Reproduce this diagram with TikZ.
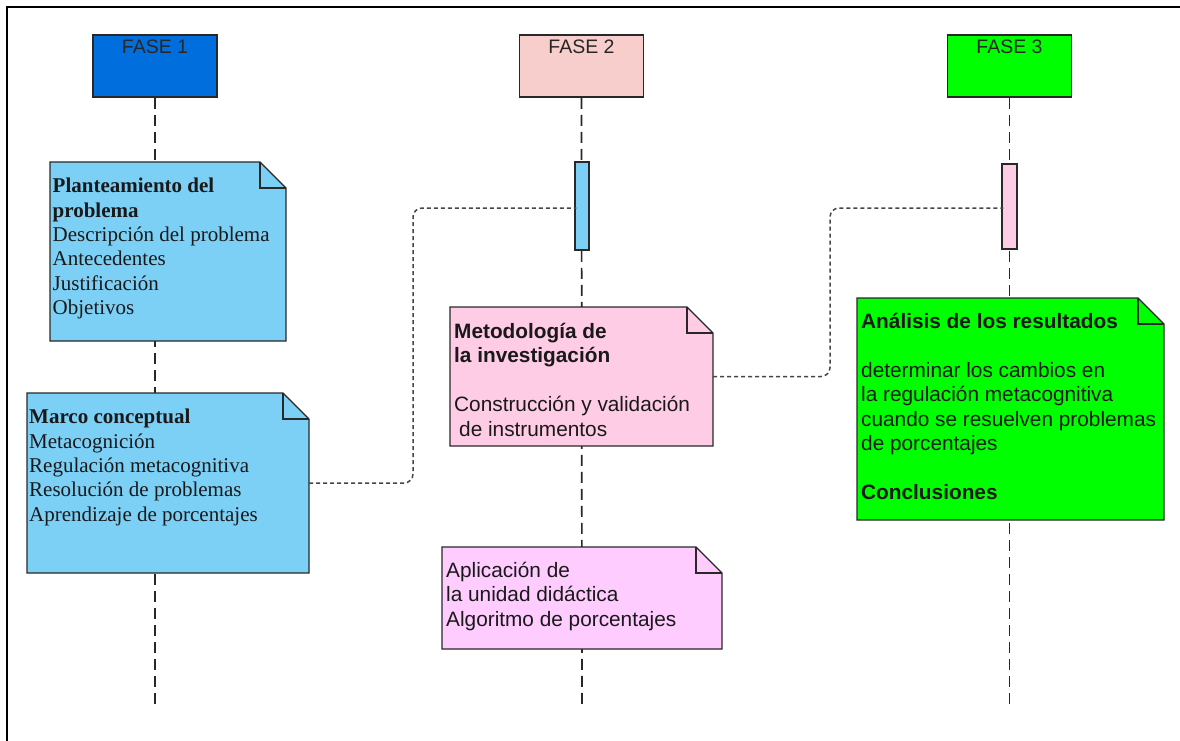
\documentclass[tikz,border=0pt]{standalone}
\usepackage{fontspec}
\setmainfont{Liberation Serif}
\newfontfamily\arialf{Liberation Sans}
\usetikzlibrary{calc,fit}

\definecolor{faseone}{RGB}{0,111,221}
\definecolor{fasetwo}{RGB}{248,206,204}
\definecolor{fasethree}{RGB}{0,255,0}
\definecolor{skyblue}{RGB}{124,207,245}
\definecolor{rosepink}{RGB}{255,204,230}
\definecolor{lilac}{RGB}{255,204,255}
\definecolor{edgegray}{RGB}{40,40,40}
\definecolor{dotgray}{RGB}{70,70,70}

% invisible strut fixing the height of a note's first line
\newcommand\lnstrut{\rule{0pt}{17pt}}

% a note: named area, folded top-right corner
\newcommand\notebox[6]{%
  \coordinate (#1-nw) at (#2,#3);
  \coordinate (#1-se) at (#4,#5);
  \node[notearea, fit=(#1-nw)(#1-se)] (#1) {};
  \filldraw[noteedge, fill=#6] (#1.north west) -- ([xshift=-26pt]#1.north east)
    -- ([yshift=-26pt]#1.north east) -- (#1.south east) -- (#1.south west) -- cycle;
  \draw[noteedge] ([xshift=-26pt]#1.north east) |- ([yshift=-26pt]#1.north east);
}

\tikzset{
  head/.style={draw=edgegray, line width=1.5pt, minimum width=124pt, minimum height=62pt, inner sep=0pt},
  headtext/.style={font=\arialf\fontsize{19.5}{22}\selectfont, text=black!85, anchor=base, inner sep=0pt},
  lifeline/.style={draw=edgegray, line width=1.7pt, dash pattern=on 11pt off 6pt},
  bar/.style={draw=edgegray, line width=1.4pt, minimum width=14pt, inner sep=0pt},
  notearea/.style={inner sep=0pt, outer sep=0pt, draw=none},
  noteedge/.style={draw=edgegray, line width=1.3pt, line join=miter},
  serifnote/.style={font=\fontsize{21}{24.4}\selectfont, align=left, anchor=north west, inner sep=0pt, text=black!90},
  sansnote/.style={font=\arialf\fontsize{20.8}{24.5}\selectfont, align=left, anchor=north west, inner sep=0pt, text=black!90},
  msg/.style={draw=dotgray, line width=1.5pt, dash pattern=on 4pt off 3pt, rounded corners=9pt},
}

\begin{document}
\begin{tikzpicture}[x=1pt,y=-1pt]
\useasboundingbox (0,0) rectangle (1180,740);
\fill[white] (0,0) rectangle (1180,740);

% outer frame
\draw[line width=2pt, black] (7,745) -- (7,7) -- (1185,7);

% phase heads
\node[head, fill=faseone]   (h1) at (155,66) {};
\node[head, fill=fasetwo]   (h2) at (581.5,66) {};
\node[head, fill=fasethree] (h3) at (1009.5,66) {};
\node[headtext] (l1) at ($(h1.north)+(0,19.5)$) {FASE 1};
\node[headtext] (l2) at ($(h2.north)+(0,19.5)$) {FASE 2};
\node[headtext] (l3) at ($(h3.north)+(0,19.5)$) {FASE 3};

% lifelines
\coordinate (e1) at (155,708);
\coordinate (e2) at (582,708);
\coordinate (e3) at (1009.5,708);
\draw[lifeline] (h1.south) -- (e1);
\draw[lifeline] (h2.south) -- (e2);
\draw[lifeline] (h3.south) -- (e3);

% activation bars
\node[bar, fill=skyblue, minimum height=88pt]  (b2) at (582,206) {};
\node[bar, fill=rosepink, minimum height=85pt, minimum width=15pt] (b3) at (1009.5,206.5) {};

% notes
\notebox{n1}{50}{162}{286}{341}{skyblue}
\notebox{n2}{27}{393}{309}{573}{skyblue}
\notebox{n3}{450}{307}{713}{446}{rosepink}
\notebox{n4}{857}{298}{1164}{520}{fasethree}
\notebox{n5}{442}{547}{722}{649}{lilac}

\node[serifnote] (t1) at (52.5,175.5) {\lnstrut\textbf{Planteamiento del}\\\textbf{problema}\\Descripción del problema\\Antecedentes\\Justificación\\Objetivos};
\node[serifnote] (t2) at (29,406.5) {\lnstrut\textbf{Marco conceptual}\\Metacognición\\Regulación metacognitiva\\Resolución de problemas\\Aprendizaje de porcentajes};
\node[sansnote] (t3) at (454,321) {\lnstrut\textbf{Metodología de}\\\textbf{la investigación}\\[24.5pt]Construcción y validación\\\hspace*{5pt}de instrumentos};
\node[sansnote] (t4) at (861,311) {\lnstrut\textbf{Análisis de los resultados}\\[24.5pt]determinar los cambios en\\la regulación metacognitiva\\cuando se resuelven problemas\\de porcentajes\\[24.5pt]\textbf{Conclusiones}};
\node[sansnote] (t5) at (446,560) {\lnstrut Aplicación de\\la unidad didáctica\\Algoritmo de porcentajes};

% connectors
\draw[msg] (n2.east) -- ++(104,0) |- ([xshift=2pt,yshift=-2pt]b2.west);
\draw[msg] (n3.east) -- ++(117,0) |- ([xshift=2pt,yshift=-1.5pt]b3.west);
\end{tikzpicture}
\end{document}
